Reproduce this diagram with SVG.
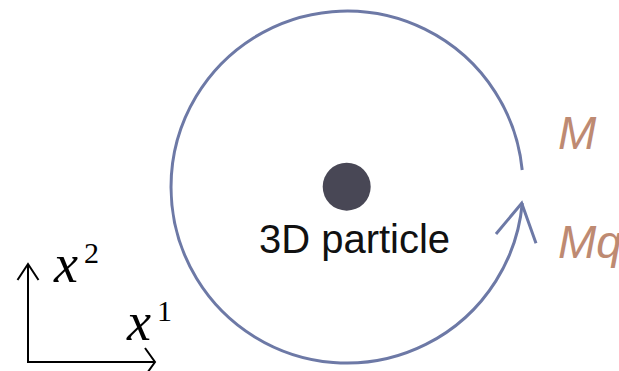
<svg xmlns="http://www.w3.org/2000/svg" width="619" height="371" viewBox="0 0 619 371">
  <style>
    .orbit { fill: none; stroke: #6d79a6; stroke-width: 3; stroke-linecap: butt; }
    .axis { fill: none; stroke: #000; stroke-width: 2; }
    .lbl { font-family: "Liberation Sans", "Noto Sans", sans-serif; fill: #111; }
    .mlbl { font-family: "Liberation Sans", "Noto Sans", sans-serif; font-style: italic; fill: #be8a72; font-size: 46px; }
    .math { font-family: "Liberation Serif", "DejaVu Serif", serif; font-style: italic; fill: #000; font-size: 54px; }
    .sup { font-family: "Liberation Serif", serif; fill: #000; font-size: 30px; }
  </style>
  <rect width="619" height="371" fill="#fff"/>
  <g id="connectors">
    <path class="orbit" d="M 522.2 170 A 176 176 0 1 0 522.3 203"/>
    <polyline class="orbit" points="496,234 521.7,203.3 536,243.3"/>
    <polyline class="axis" points="28,264 28,362 155,362"/>
    <polyline class="axis" points="17.5,280 28,264 38.5,280"/>
    <polyline class="axis" points="145,348 155,362 145,376"/>
  </g>
  <g id="particle">
    <circle cx="346.7" cy="186.7" r="24" fill="#484755"/>
    <text class="lbl" x="354.5" y="253" font-size="40" text-anchor="middle">3D particle</text>
  </g>
  <g id="label-M">
    <text class="mlbl" x="558" y="149">M</text>
  </g>
  <g id="label-Mq">
    <text class="mlbl" x="558" y="258">Mq</text>
  </g>
  <g id="axis-x2">
    <text class="math" x="54" y="282">x</text>
    <text class="sup" x="84" y="263">2</text>
  </g>
  <g id="axis-x1">
    <text class="math" x="127" y="340">x</text>
    <text class="sup" x="157" y="321">1</text>
  </g>
</svg>
